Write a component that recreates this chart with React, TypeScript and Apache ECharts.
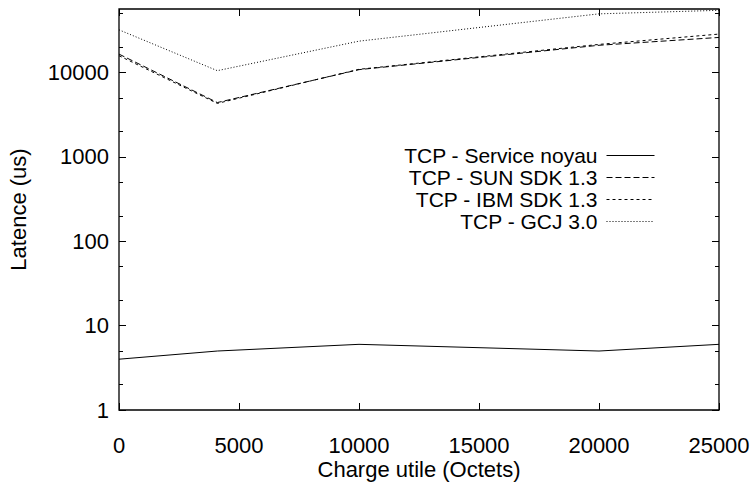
import React, { useEffect, useRef } from "react";
import * as echarts from "echarts";

const xValues = [0, 4096, 10000, 20000, 25000];
const serviceNoyau = [4, 5, 6, 5, 6];
const sunSdk = [16500, 4400, 10800, 21000, 26000];
const ibmSdk = [15800, 4300, 10900, 21500, 28500];
const gcj = [32000, 10500, 23500, 49500, 54500];
const seriesNames = ["TCP - Service noyau", "TCP - SUN SDK 1.3", "TCP - IBM SDK 1.3", "TCP - GCJ 3.0"];
const xTicks = [0, 5000, 10000, 15000, 20000, 25000];
const yMajorTicks = [1, 10, 100, 1000, 10000];
const yMinorTicks = [2, 5, 20, 50, 200, 500, 2000, 5000, 20000, 50000];

const FONT = "Liberation Sans, Arial, Helvetica, sans-serif";
const FS = 22;
const LEGEND_FS = 21;
const Y_MIN = 1;
const Y_MAX = 56500;

export default function App() {
  const ref = useRef<HTMLDivElement>(null);
  useEffect(() => {
    if (!ref.current) return;
    const chart = echarts.init(ref.current, undefined, { renderer: "svg" });
    const pairs = (ys: number[]) => xValues.map((x, i) => [x, ys[i]]);
    const dashes: any[] = ["solid", [6, 3], [3, 3], [1, 2]];
    const allData = [serviceNoyau, sunSdk, ibmSdk, gcj];
    const legendTops = [145, 167, 189, 211];
    const plain = (v: number) => String(Math.round(v));

    const baseY = (pos: string, ticks: number[], len: number, showLabel: boolean) => ({
      type: "log",
      logBase: 10,
      min: Y_MIN,
      max: Y_MAX,
      position: pos,
      axisLine: { show: false },
      splitLine: { show: false },
      axisTick: { show: true, inside: true, length: len, customValues: ticks, lineStyle: { color: "#000", width: 1 } },
      axisLabel: showLabel
        ? { show: true, customValues: ticks, margin: 10, color: "#000", fontSize: FS, fontFamily: FONT, formatter: plain }
        : { show: false },
    });

    chart.setOption({
      animation: false,
      backgroundColor: "#fff",
      grid: {
        left: 119, right: 32, top: 9, bottom: 73,
        outerBoundsMode: "none", containLabel: false,
        show: true, borderColor: "#000", borderWidth: 1.3, backgroundColor: "transparent",
      },
      legend: seriesNames.map((n, i) => ({
        data: [n],
        right: 96,
        top: legendTops[i],
        padding: 0,
        orient: "vertical",
        align: "right",
        itemWidth: 48,
        itemHeight: 2,
        itemStyle: { opacity: 0 },
        lineStyle: { width: 1 },
        textStyle: { color: "#000", fontSize: LEGEND_FS, lineHeight: 21, fontFamily: FONT, padding: [0, 4, 0, 0] },
        selectedMode: false,
      })),
      xAxis: [
        {
          type: "value",
          min: 0,
          max: 25000,
          interval: 5000,
          position: "bottom",
          name: "Charge utile (Octets)",
          nameLocation: "middle",
          nameGap: 48,
          nameMoveOverlap: false,
          nameTextStyle: { color: "#000", fontSize: FS, fontFamily: FONT },
          axisLine: { show: false },
          splitLine: { show: false },
          axisTick: { inside: true, length: 7, lineStyle: { color: "#000" } },
          axisLabel: { color: "#000", fontSize: FS, fontFamily: FONT, margin: 24, customValues: xTicks, formatter: plain },
        },
        {
          type: "value",
          min: 0,
          max: 25000,
          interval: 5000,
          position: "top",
          axisLine: { show: false },
          splitLine: { show: false },
          axisTick: { inside: true, length: 7, lineStyle: { color: "#000" } },
          axisLabel: { show: false },
        },
      ],
      yAxis: [
        {
          ...baseY("left", yMajorTicks, 7, true),
          name: "Latence (us)",
          nameLocation: "middle",
          nameGap: 90,
          nameRotate: 90,
          nameTextStyle: { color: "#000", fontSize: FS, fontFamily: FONT },
        },
        baseY("left", yMinorTicks, 4, false),
        baseY("right", yMajorTicks, 7, false),
        baseY("right", yMinorTicks, 4, false),
      ],
      series: seriesNames.map((n, i) => ({
        name: n,
        type: "line",
        xAxisIndex: 0,
        yAxisIndex: 0,
        data: pairs(allData[i]),
        symbol: "none",
        showSymbol: false,
        lineStyle: { color: "#000", width: 1, type: dashes[i] },
        itemStyle: { color: "#000" },
      })),
    });
    return () => chart.dispose();
  }, []);
  return <div ref={ref} style={{ position: "fixed", left: 0, top: 0, width: 751, height: 483, background: "#fff" }} />;
}
